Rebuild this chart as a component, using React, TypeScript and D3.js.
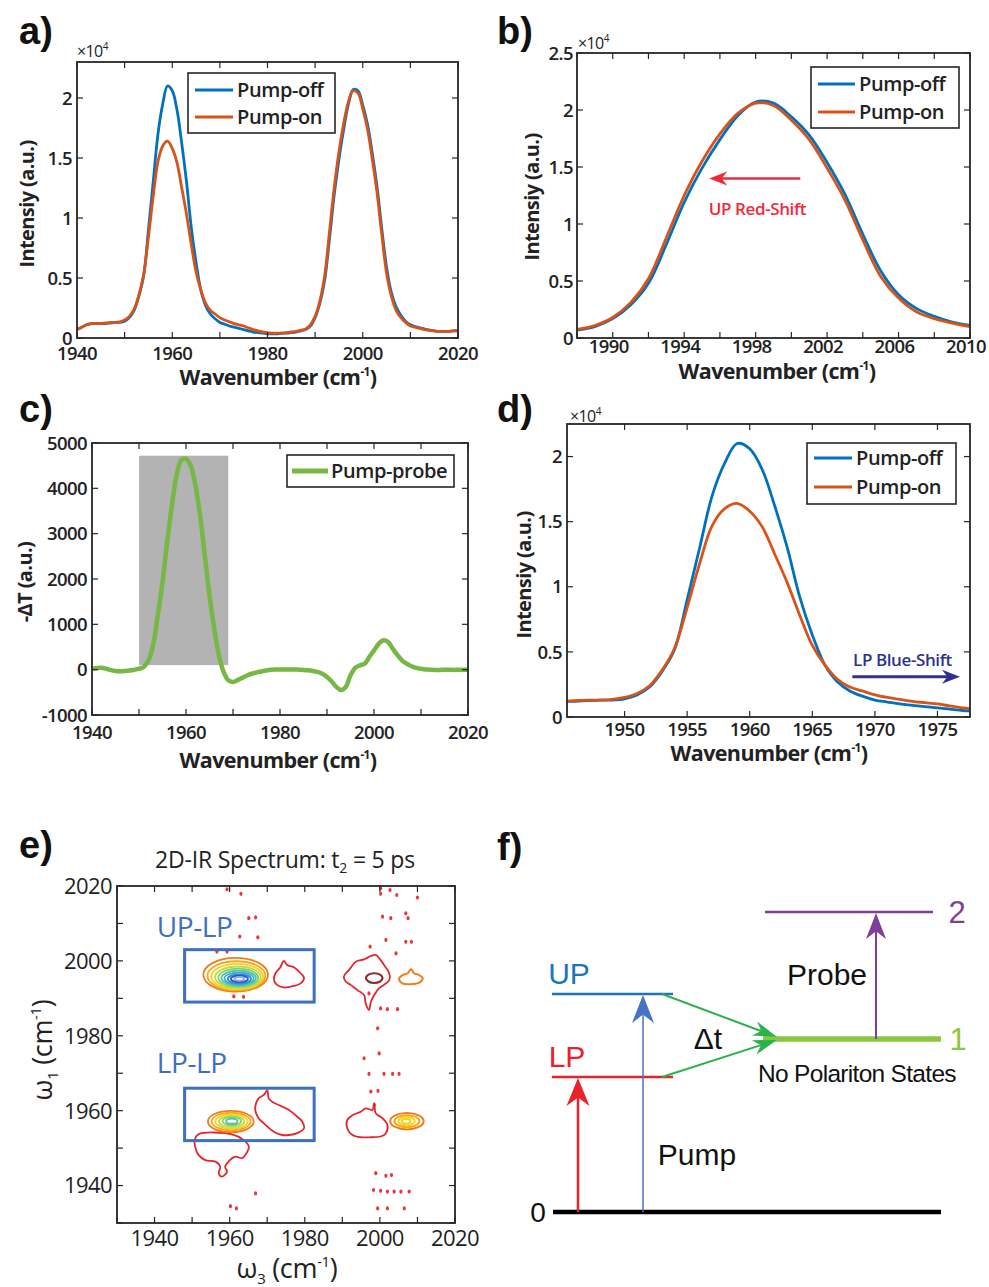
import React from 'react';
import * as d3 from 'd3';

const FONT = "'Open Sans', 'DejaVu Sans', sans-serif";
const ARIAL = "'Liberation Sans', Arial, sans-serif";
const AXC = '#262626';
const BLUE = '#0072BD';
const ORANGE = '#D95319';
const GREEN = '#76B843';

// ---------- data ----------
const wavenumbers = d3.range(1940, 2021);
// intensities in units of 1e4
const pumpOff = [
  0.07, 0.09, 0.11, 0.12, 0.12, 0.12, 0.12, 0.125, 0.13, 0.13,
  0.14, 0.17, 0.23, 0.35, 0.52, 0.90, 1.30, 1.70, 1.95, 2.10,
  2.06, 1.90, 1.62, 1.30, 0.92, 0.63, 0.40, 0.27, 0.20, 0.16,
  0.13, 0.115, 0.10, 0.09, 0.08, 0.07, 0.06, 0.05, 0.045, 0.04,
  0.035, 0.035, 0.035, 0.04, 0.04, 0.045, 0.05, 0.06, 0.07, 0.10,
  0.17, 0.29, 0.48, 0.82, 1.19, 1.49, 1.74, 1.95, 2.07, 2.06,
  1.94, 1.78, 1.54, 1.26, 0.91, 0.59, 0.38, 0.26, 0.19, 0.14,
  0.11, 0.095, 0.085, 0.075, 0.065, 0.06, 0.055, 0.055, 0.055, 0.06,
  0.06,
];
const pumpOn = [
  0.07, 0.09, 0.11, 0.12, 0.12, 0.12, 0.125, 0.13, 0.13, 0.135,
  0.15, 0.18, 0.24, 0.36, 0.53, 0.84, 1.18, 1.47, 1.60, 1.64,
  1.58, 1.46, 1.25, 1.03, 0.78, 0.55, 0.40, 0.29, 0.23, 0.20,
  0.17, 0.15, 0.135, 0.12, 0.11, 0.10, 0.085, 0.07, 0.06, 0.05,
  0.045, 0.04, 0.04, 0.04, 0.045, 0.05, 0.055, 0.065, 0.075, 0.11,
  0.18, 0.31, 0.52, 0.88, 1.25, 1.55, 1.79, 1.97, 2.06, 2.04,
  1.91, 1.74, 1.49, 1.21, 0.86, 0.54, 0.35, 0.23, 0.17, 0.13,
  0.10, 0.09, 0.08, 0.07, 0.065, 0.06, 0.055, 0.055, 0.055, 0.06,
  0.06,
];
const pumpProbe = [
  20, 35, 40, 20, -10, -30, -35, -30, -20, 0,
  20, 60, 200, 540, 1200, 1930, 2820, 3620, 4290, 4620,
  4650, 4500, 4070, 3400, 2520, 1640, 900, 320, -50, -235,
  -270, -230, -180, -130, -90, -60, -40, -20, 0, 5,
  5, 5, 5, 5, 0, -5, -15, -30, -50, -90,
  -160, -260, -380, -450, -380, -125, 40, 95, 130, 280,
  425, 570, 650, 610, 460, 320, 200, 130, 75, 40,
  20, 5, 0, -5, -5, 0, 0, -5, 0, 0,
  0,
];
const shadedBand = [1950, 1969, 100, 4720];

// ticks
const xTicksA = [1940, 1950, 1960, 1970, 1980, 1990, 2000, 2010, 2020];
const xLabelsA = [1940, 1960, 1980, 2000, 2020];
const yTicksA = [0, 0.5, 1, 1.5, 2];
const xTicksB = [1988, 1990, 1992, 1994, 1996, 1998, 2000, 2002, 2004, 2006, 2008, 2010];
const xLabelsB = [1990, 1994, 1998, 2002, 2006, 2010];
const yTicksB = [0, 0.5, 1, 1.5, 2, 2.5];
const yTicksC = [-1000, 0, 1000, 2000, 3000, 4000, 5000];
const xTicksD = [1950, 1955, 1960, 1965, 1970, 1975];
const ticksE = [1930, 1940, 1950, 1960, 1970, 1980, 1990, 2000, 2010, 2020];
const labelsE = [1940, 1960, 1980, 2000, 2020];

// 2D-IR contour rings [w3, w1, rx, ry]
const upLpRings = [
  [1961.6, 1996.3, 8.6, 4.5],
  [1961.8, 1996.0, 7.7, 3.9],
  [1962.0, 1995.8, 6.9, 3.4],
  [1962.2, 1995.6, 6.1, 2.9],
  [1962.3, 1995.5, 5.3, 2.45],
  [1962.4, 1995.4, 4.6, 2.0],
  [1962.5, 1995.3, 3.9, 1.6],
  [1962.6, 1995.2, 3.1, 1.2],
  [1962.6, 1995.2, 2.3, 0.85],
  [1962.6, 1995.2, 1.3, 0.5],
];
const lpLpRings = [
  [1960.3, 1957.1, 6.1, 2.85],
  [1960.4, 1957.1, 5.2, 2.35],
  [1960.5, 1957.1, 4.3, 1.9],
  [1960.5, 1957.1, 3.4, 1.5],
  [1960.6, 1957.2, 2.5, 1.1],
  [1960.6, 1957.2, 1.5, 0.7],
];
const crossRings = [
  [2007.2, 1957.2, 4.45, 2.2],
  [2007.2, 1957.2, 3.3, 1.6],
  [2007.1, 1957.2, 2.2, 1.1],
  [2007.0, 1957.2, 1.2, 0.6],
];
const negRing = [1998.5, 1995.4, 2.2, 1.3];
const ringColors = ['#ef7d1a', '#f5a623', '#f0d41b', '#c4dc3b', '#86cf6b', '#4fc4a4', '#35b0d8', '#3886d6', '#2b55bf', '#8aa6e6'];

const redBlobs: number[][][] = [
  [[1974.4, 2000.0], [1975.3, 1998.9], [1977.1, 1998.3], [1978.9, 1996.7], [1979.8, 1995.4], [1978.9, 1994.0], [1977.1, 1993.3], [1974.4, 1992.9], [1972.6, 1993.6], [1971.8, 1994.9], [1972.2, 1996.7], [1973.5, 1998.3]],
  [[1990.4, 1995.8], [1991.8, 1997.6], [1993.6, 1999.8], [1995.8, 2000.4], [1997.6, 2001.3], [1998.9, 2001.6], [2000.2, 2000.2], [2001.1, 1998.9], [2002.5, 1996.7], [2002.5, 1994.9], [2001.1, 1993.6], [1999.8, 1992.7], [1998.5, 1990.9], [1997.6, 1989.1], [1997.1, 1986.9], [1996.2, 1988.7], [1995.8, 1990.9], [1994.0, 1992.2], [1992.2, 1993.6], [1990.9, 1994.5]],
  [[1967.7, 1963.3], [1969.1, 1964.2], [1970.0, 1965.5], [1970.4, 1963.3], [1971.3, 1962.4], [1973.1, 1961.5], [1975.8, 1960.2], [1977.5, 1958.8], [1979.3, 1957.1], [1979.8, 1955.3], [1978.0, 1954.0], [1975.8, 1953.5], [1974.0, 1953.5], [1972.2, 1954.1], [1970.9, 1955.0], [1969.1, 1956.6], [1967.7, 1958.0], [1966.9, 1959.7], [1966.9, 1961.5]],
  [[1951.7, 1953.7], [1960.6, 1953.7], [1963.7, 1952.2], [1965.1, 1950.4], [1964.2, 1948.2], [1963.3, 1947.3], [1961.5, 1947.7], [1959.7, 1946.4], [1958.8, 1945.0], [1959.3, 1943.7], [1957.9, 1942.4], [1957.1, 1943.3], [1957.5, 1945.0], [1956.2, 1946.4], [1953.5, 1946.8], [1951.7, 1948.2], [1950.8, 1950.4], [1950.7, 1952.2]],
  [[1991.3, 1957.5], [1992.7, 1958.8], [1994.9, 1959.7], [1996.2, 1960.6], [1998.0, 1960.2], [1998.5, 1962.0], [1998.9, 1959.3], [2000.7, 1958.0], [2002.0, 1956.2], [2001.6, 1954.0], [2000.2, 1953.1], [1997.6, 1952.9], [1994.9, 1952.9], [1992.7, 1953.5], [1991.3, 1955.3]],
];
const orangeBlob = [[2005.1, 1995.2], [2006.0, 1996.2], [2007.4, 1996.7], [2008.3, 1997.8], [2009.1, 1996.7], [2010.5, 1996.2], [2011.4, 1995.4], [2010.5, 1994.2], [2008.3, 1993.8], [2006.0, 1994.0]];
const noiseDots = [
  [1959.3, 2019.1], [1963.0, 2017.9], [1965.1, 2011.4], [1966.9, 2011.6], [1962.7, 2006.5], [1967.5, 2006.3],
  [1956.6, 2002.5], [1959.3, 2002.5], [1961.1, 1990.5], [1963.7, 1990.4],
  [2000.2, 2019.4], [2002.7, 2018.9], [2004.5, 2017.6], [2010.0, 2016.9], [2000.2, 2017.9],
  [2000.7, 2011.8], [2002.9, 2011.4], [2006.9, 2012.7], [2007.5, 2011.4], [2001.6, 2005.6],
  [2004.3, 2002.0], [2006.9, 2005.1], [2008.4, 2005.1], [1997.4, 2003.8], [1997.1, 1991.3],
  [2000.2, 1987.3], [2002.0, 1987.1], [2004.7, 1987.1], [1999.4, 1982.0], [1999.8, 1975.3],
  [1995.8, 1974.0], [1997.1, 1969.8], [2001.1, 1969.8], [2003.4, 1969.8], [2005.1, 1969.8],
  [1997.6, 1965.1], [1999.5, 1965.3], [1998.5, 1961.5], [1998.9, 1943.3], [2001.6, 1942.6],
  [2003.1, 1942.8], [1998.3, 1938.8], [2000.2, 1938.6], [2002.0, 1938.4], [2003.8, 1938.4],
  [2005.6, 1938.4], [2007.8, 1938.4], [1999.4, 1933.9], [2002.0, 1933.9], [2006.5, 1933.9],
  [1966.9, 1937.9], [1960.2, 1934.5], [1961.8, 1933.9],
];
const boxes = [
  { label: 'UP-LP', x0: 1948, x1: 1982.5, y0: 1989, y1: 2003, lx: 1940.6, ly: 2006.4 },
  { label: 'LP-LP', x0: 1948, x1: 1982.5, y0: 1952, y1: 1966, lx: 1940.6, ly: 1970.1 },
];

// energy-level diagram
const levelNames = ['0', 'LP', 'UP', '1', '2'];
const levelEnergies = [0, 135, 218, 173, 300];

// ---------- helpers ----------
type Lin = d3.ScaleLinear<number, number>;

function Axes(p: {
  x: Lin; y: Lin; xTicks: number[]; xLabels: number[]; yTicks: number[]; yLabels: number[];
  xBase: number; yRight: number; fs: number; fw: number; ls?: number; xOff?: number;
}) {
  const [x0, x1] = p.x.range();
  const [y0, y1] = p.y.range();
  const tl = 6;
  const off = p.xOff ?? 0;
  return (
    <g>
      {p.xTicks.map((t) => (
        <g key={'xt' + t} stroke={AXC} strokeWidth={1.2}>
          <line x1={p.x(t)} x2={p.x(t)} y1={y0} y2={y0 - tl} />
          <line x1={p.x(t)} x2={p.x(t)} y1={y1} y2={y1 + tl} />
        </g>
      ))}
      {p.yTicks.map((t) => (
        <g key={'yt' + t} stroke={AXC} strokeWidth={1.2}>
          <line x1={x0} x2={x0 + tl} y1={p.y(t)} y2={p.y(t)} />
          <line x1={x1} x2={x1 - tl} y1={p.y(t)} y2={p.y(t)} />
        </g>
      ))}
      <rect x={x0} y={y1} width={x1 - x0} height={y0 - y1} fill="none" stroke={AXC} strokeWidth={1.8} />
      {p.xLabels.map((t) => (
        <text key={'xl' + t} x={p.x(t) + off} y={p.xBase} textAnchor="middle" fontSize={p.fs} fontWeight={p.fw}
          letterSpacing={p.ls ?? -0.6} fill="#222">{String(t)}</text>
      ))}
      {p.yLabels.map((t) => (
        <text key={'yl' + t} x={p.yRight} y={p.y(t)} dy="0.36em" textAnchor="end" fontSize={p.fs} fontWeight={p.fw}
          letterSpacing={p.ls ?? -0.6} fill="#222">{String(t)}</text>
      ))}
    </g>
  );
}

function CmInv({ fs }: { fs: number }) {
  return (
    <>
      {'(cm'}
      <tspan fontSize={fs * 0.55} dy={-fs * 0.42}>-1</tspan>
      <tspan dy={fs * 0.42}>)</tspan>
    </>
  );
}

function XLabel({ x, y, fs = 21.5, text }: { x: number; y: number; fs?: number; text: string }) {
  return (
    <text x={x} y={y} textAnchor="middle" fontSize={fs} fontWeight={700} letterSpacing={-0.6} fill="#222">
      {text} <CmInv fs={fs} />
    </text>
  );
}

function YLabel({ x, y, fs = 20, children }: { x: number; y: number; fs?: number; children: React.ReactNode }) {
  return (
    <text transform={`translate(${x},${y}) rotate(-90)`} textAnchor="middle" fontSize={fs} fontWeight={700}
      letterSpacing={-0.6} fill="#222">{children}</text>
  );
}

function Exp({ x, y }: { x: number; y: number }) {
  return (
    <text x={x} y={y} fontSize={16} fill="#222" letterSpacing={-0.6}>
      ×10<tspan fontSize={10} dy={-7}>4</tspan>
    </text>
  );
}

function Legend(p: { x: number; y: number; w: number; h: number; rows: number[]; lx0: number; lx1: number; tx: number;
  items: { label: string; color: string; width: number }[] }) {
  return (
    <g>
      <rect x={p.x} y={p.y} width={p.w} height={p.h} fill="#fff" stroke={AXC} strokeWidth={1.6} />
      {p.items.map((it, i) => (
        <g key={it.label}>
          <line x1={p.lx0} x2={p.lx1} y1={p.rows[i]} y2={p.rows[i]} stroke={it.color} strokeWidth={it.width} />
          <text x={p.tx} y={p.rows[i]} dy="0.36em" fontSize={20} fontWeight={600} letterSpacing={-0.4} fill="#222">{it.label}</text>
        </g>
      ))}
    </g>
  );
}

function stealth(tx: number, ty: number, fx: number, fy: number, len: number, wid: number, notch = 0.3) {
  const a = Math.atan2(ty - fy, tx - fx);
  const dx = Math.cos(a), dy = Math.sin(a);
  const px = -dy, py = dx;
  const bx = tx - dx * len, by = ty - dy * len;
  const nx = tx - dx * len * (1 - notch), ny = ty - dy * len * (1 - notch);
  return `M${tx},${ty}L${bx + px * wid / 2},${by + py * wid / 2}L${nx},${ny}L${bx - px * wid / 2},${by - py * wid / 2}Z`;
}

function Arrow({ fx, fy, tx, ty, color, sw, len, wid }: { fx: number; fy: number; tx: number; ty: number; color: string; sw: number; len: number; wid: number }) {
  const a = Math.atan2(ty - fy, tx - fx);
  const ex = tx - Math.cos(a) * len * 0.6, ey = ty - Math.sin(a) * len * 0.6;
  return (
    <g>
      <line x1={fx} y1={fy} x2={ex} y2={ey} stroke={color} strokeWidth={sw} />
      <path d={stealth(tx, ty, fx, fy, len, wid)} fill={color} />
    </g>
  );
}

function linePath(x: Lin, y: Lin, xs: number[], ys: number[]) {
  return d3.line<number>().x((_, i) => x(xs[i])).y((d) => y(d)).curve(d3.curveCatmullRom.alpha(0.5))(ys) || '';
}

export default function App() {
  const xa = d3.scaleLinear().domain([1940, 2020]).range([77, 458]);
  const ya = d3.scaleLinear().domain([0, 2.3]).range([338, 62]);
  const xb = d3.scaleLinear().domain([1988, 2010]).range([577, 970]);
  const yb = d3.scaleLinear().domain([0, 2.5]).range([338, 53]);
  const xc = d3.scaleLinear().domain([1940, 2020]).range([92, 468]);
  const yc = d3.scaleLinear().domain([-1000, 5000]).range([715, 443]);
  const xd = d3.scaleLinear().domain([1945.4, 1977.6]).range([567, 970]);
  const yd = d3.scaleLinear().domain([0, 2.25]).range([717, 424]);
  const xe = d3.scaleLinear().domain([1930, 2020]).range([117, 455]);
  const ye = d3.scaleLinear().domain([1930, 2020]).range([1223, 886]);
  const fy = d3.scaleLinear().domain([0, 300]).range([1212, 912]);
  const lv = (n: string) => fy(levelEnergies[levelNames.indexOf(n)]);

  const blobLine = d3.line<number[]>().x((d) => xe(d[0])).y((d) => ye(d[1])).curve(d3.curveCatmullRomClosed);
  const ring = (r: number[], color: string, key: string, sw = 2) => (
    <ellipse key={key} cx={xe(r[0])} cy={ye(r[1])} rx={xe(r[0] + r[2]) - xe(r[0])} ry={ye(r[1]) - ye(r[1] + r[3])}
      fill="none" stroke={color} strokeWidth={sw} />
  );

  const clip = (id: string, x: Lin, y: Lin) => {
    const [x0, x1] = x.range();
    const [y0, y1] = y.range();
    return (
      <clipPath id={id}>
        <rect x={x0} y={y1} width={x1 - x0} height={y0 - y1} />
      </clipPath>
    );
  };

  const legendItems = [
    { label: 'Pump-off', color: BLUE, width: 2.8 },
    { label: 'Pump-on', color: ORANGE, width: 2.8 },
  ];

  return (
    <svg width={989} height={1287} style={{ position: 'absolute', left: 0, top: 0, background: '#fff' }} fontFamily={FONT}>
      <defs>
        {clip('ca', xa, ya)}
        {clip('cb', xb, yb)}
        {clip('cc', xc, yc)}
        {clip('cd', xd, yd)}
        {clip('ce', xe, ye)}
      </defs>
      <rect width={989} height={1287} fill="#fff" />

      {/* panel letters */}
      <g fontFamily={ARIAL} fontWeight={700} fontSize={38} fill="#111">
        <text x={19} y={44}>a)</text>
        <text x={497} y={44}>b)</text>
        <text x={19} y={422}>c)</text>
        <text x={497} y={422}>d)</text>
        <text x={19} y={858}>e)</text>
        <text x={497} y={860}>f)</text>
      </g>

      {/* ---------- a ---------- */}
      <g clipPath="url(#ca)" fill="none" strokeWidth={2.8} strokeLinejoin="round">
        <path d={linePath(xa, ya, wavenumbers, pumpOff)} stroke={BLUE} />
        <path d={linePath(xa, ya, wavenumbers, pumpOn)} stroke={ORANGE} />
      </g>
      <Axes x={xa} y={ya} xTicks={xTicksA} xLabels={xLabelsA} yTicks={yTicksA} yLabels={yTicksA} xBase={360} yRight={72} fs={18.5} fw={600} />
      <Exp x={77} y={57} />
      <Legend x={188} y={73} w={147} h={60} rows={[90, 117]} lx0={195} lx1={233} tx={237} items={legendItems} />
      <XLabel x={278} y={385} text="Wavenumber" />
      <YLabel x={34} y={204}>Intensiy (a.u.)</YLabel>

      {/* ---------- b ---------- */}
      <g clipPath="url(#cb)" fill="none" strokeWidth={2.8} strokeLinejoin="round">
        <path d={linePath(xb, yb, wavenumbers, pumpOff)} stroke={BLUE} />
        <path d={linePath(xb, yb, wavenumbers, pumpOn)} stroke={ORANGE} />
      </g>
      <Axes x={xb} y={yb} xTicks={xTicksB} xLabels={xLabelsB} yTicks={yTicksB} yLabels={yTicksB} xBase={353} yRight={573} fs={18.5} fw={600} xOff={-4} />
      <Exp x={578} y={49} />
      <Legend x={811} y={67} w={148} h={61} rows={[84, 112]} lx0={818} lx1={855} tx={859} items={legendItems} />
      <Arrow fx={xb(2000.5)} fy={yb(1.4)} tx={xb(1995.4)} ty={yb(1.4)} color="#ee2a3b" sw={2.5} len={18} wid={14} />
      <text x={xb(1998.1)} y={yb(1.08)} textAnchor="middle" fontSize={17} fontWeight={600} fill="#ee2a3b" letterSpacing={-0.4}>UP Red-Shift</text>
      <XLabel x={777} y={379} text="Wavenumber" />
      <YLabel x={539} y={197}>Intensiy (a.u.)</YLabel>

      {/* ---------- c ---------- */}
      <rect x={xc(shadedBand[0])} y={yc(shadedBand[3])} width={xc(shadedBand[1]) - xc(shadedBand[0])}
        height={yc(shadedBand[2]) - yc(shadedBand[3])} fill="#b3b3b3" />
      <g clipPath="url(#cc)" fill="none" strokeWidth={4.5} strokeLinejoin="round">
        <path d={linePath(xc, yc, wavenumbers, pumpProbe)} stroke={GREEN} />
      </g>
      <Axes x={xc} y={yc} xTicks={xTicksA} xLabels={xLabelsA} yTicks={yTicksC} yLabels={yTicksC} xBase={739} yRight={87} fs={18.5} fw={600} />
      <Legend x={287} y={455} w={167} h={32} rows={[471]} lx0={292} lx1={328} tx={331}
        items={[{ label: 'Pump-probe', color: GREEN, width: 5 }]} />
      <XLabel x={278} y={768} text="Wavenumber" />
      <YLabel x={32} y={582}>-ΔT (a.u.)</YLabel>

      {/* ---------- d ---------- */}
      <g clipPath="url(#cd)" fill="none" strokeWidth={2.8} strokeLinejoin="round">
        <path d={linePath(xd, yd, wavenumbers, pumpOff)} stroke={BLUE} />
        <path d={linePath(xd, yd, wavenumbers, pumpOn)} stroke={ORANGE} />
      </g>
      <Axes x={xd} y={yd} xTicks={xTicksD} xLabels={xTicksD} yTicks={yTicksA} yLabels={yTicksA} xBase={736} yRight={562} fs={18.5} fw={600} />
      <Exp x={570} y={422} />
      <Legend x={807} y={443} w={149} h={61} rows={[458, 487]} lx0={814} lx1={852} tx={856} items={legendItems} />
      <Arrow fx={xd(1968.2)} fy={yd(0.31)} tx={xd(1976.8)} ty={yd(0.31)} color="#2e3192" sw={3} len={18} wid={14} />
      <text x={xd(1972.2)} y={yd(0.39)} textAnchor="middle" fontSize={17} fontWeight={600} fill="#2e3192" letterSpacing={-0.4}>LP Blue-Shift</text>
      <XLabel x={769} y={761} text="Wavenumber" />
      <YLabel x={531} y={575}>Intensiy (a.u.)</YLabel>

      {/* ---------- e ---------- */}
      <text x={285} y={868} textAnchor="middle" fontSize={23} fill="#222" letterSpacing={-0.2}>
        2D-IR Spectrum: t<tspan fontSize={14} dy={5}>2</tspan><tspan dy={-5}> = 5 ps</tspan>
      </text>
      <g clipPath="url(#ce)">
        {noiseDots.map((d, i) => (
          <ellipse key={'nd' + i} cx={xe(d[0])} cy={ye(d[1])} rx={1.6} ry={2.1} fill="#e8383d" />
        ))}
        {redBlobs.map((b, i) => (
          <path key={'rb' + i} d={blobLine(b) || ''} fill="none" stroke="#e3262d" strokeWidth={1.8} />
        ))}
        <path d={blobLine(orangeBlob) || ''} fill="none" stroke="#ef7d1a" strokeWidth={2} />
        {ring(negRing, '#8b2b2b', 'neg', 2.2)}
        {upLpRings.map((r, i) => ring(r, ringColors[i], 'ul' + i, 1.8))}
        {lpLpRings.map((r, i) => ring(r, ringColors[i], 'll' + i, 1.8))}
        {crossRings.map((r, i) => ring(r, ringColors[Math.min(i, 2)], 'cr' + i, 2))}
      </g>
      {boxes.map((b) => (
        <g key={b.label}>
          <rect x={xe(b.x0)} y={ye(b.y1)} width={xe(b.x1) - xe(b.x0)} height={ye(b.y0) - ye(b.y1)}
            fill="none" stroke="#3e6fc0" strokeWidth={3} />
          <text x={xe(b.lx)} y={ye(b.ly)} fontSize={28} fill="#3e6fc0" letterSpacing={-0.4}>{b.label}</text>
        </g>
      ))}
      <Axes x={xe} y={ye} xTicks={ticksE} xLabels={labelsE} yTicks={ticksE} yLabels={labelsE} xBase={1246} yRight={112} fs={22} fw={400} ls={-0.6} />
      <text x={287} y={1278} textAnchor="middle" fontSize={27} fill="#222" letterSpacing={-0.3}>
        ω<tspan fontSize={15} dy={6}>3</tspan><tspan dy={-6}> </tspan><CmInv fs={27} />
      </text>
      <text transform="translate(52,1050) rotate(-90)" textAnchor="middle" fontSize={27} fill="#222" letterSpacing={-0.3}>
        ω<tspan fontSize={15} dy={6}>1</tspan><tspan dy={-6}> </tspan><CmInv fs={27} />
      </text>

      {/* ---------- f ---------- */}
      <g fontFamily={ARIAL}>
        <line x1={553} x2={941} y1={lv('0')} y2={lv('0')} stroke="#000" strokeWidth={4.5} />
        <line x1={552} x2={673} y1={lv('LP')} y2={lv('LP')} stroke="#e8212b" strokeWidth={2.5} />
        <line x1={552} x2={673} y1={lv('UP')} y2={lv('UP')} stroke="#1b75bc" strokeWidth={2.5} />
        <line x1={763} x2={941} y1={lv('1')} y2={lv('1')} stroke="#8cc63f" strokeWidth={5.5} />
        <line x1={765} x2={933} y1={lv('2')} y2={lv('2')} stroke="#7f3f98" strokeWidth={2.5} />

        <Arrow fx={578} fy={lv('0')} tx={578} ty={lv('LP') + 1} color="#e8212b" sw={2.5} len={28} wid={23} />
        <Arrow fx={643} fy={lv('0')} tx={643} ty={lv('UP') + 1} color="#4472c4" sw={1.5} len={28} wid={22} />
        <Arrow fx={876} fy={lv('1')} tx={876} ty={lv('2') + 1} color="#7f3f98" sw={2} len={26} wid={20} />
        <Arrow fx={662} fy={lv('UP')} tx={777} ty={lv('1') - 2} color="#2bb24c" sw={2} len={24} wid={15} />
        <Arrow fx={662} fy={lv('LP')} tx={777} ty={lv('1') + 1} color="#2bb24c" sw={2} len={24} wid={15} />

        <text x={538} y={lv('0')} dy="0.36em" textAnchor="middle" fontSize={28} fill="#111">0</text>
        <text x={567} y={lv('LP') - 10} textAnchor="middle" fontSize={30} fill="#e8212b">LP</text>
        <text x={569} y={lv('UP') - 10} textAnchor="middle" fontSize={30} fill="#1b75bc">UP</text>
        <text x={958} y={lv('1')} dy="0.36em" textAnchor="middle" fontSize={31} fill="#8cc63f">1</text>
        <text x={957} y={lv('2')} dy="0.36em" textAnchor="middle" fontSize={31} fill="#7f3f98">2</text>
        <text x={827} y={985} textAnchor="middle" fontSize={30} fill="#111">Probe</text>
        <text x={708} y={1049} textAnchor="middle" fontSize={30} fill="#111">Δt</text>
        <text x={857} y={1082} textAnchor="middle" fontSize={24.5} fill="#111" letterSpacing={-0.7}>No Polariton States</text>
        <text x={697} y={1165} textAnchor="middle" fontSize={30} fill="#111">Pump</text>
      </g>
    </svg>
  );
}
